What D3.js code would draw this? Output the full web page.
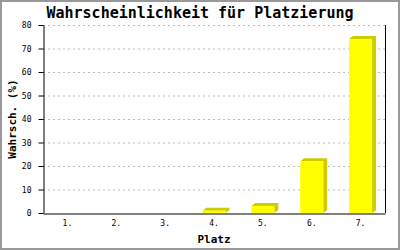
<!DOCTYPE html>
<html>
<head>
<meta charset="utf-8">
<script src="https://cdn.jsdelivr.net/npm/d3@7"></script>
<style>
  body { margin: 0; background: #fff; }
  text { font-family: "DejaVu Sans Mono", monospace; }
</style>
</head>
<body>
<div id="chart"></div>
<script>
var places = ["1.", "2.", "3.", "4.", "5.", "6.", "7."];
var probs = [0, 0, 0, 1, 3, 22, 74];
var yTicks = [0, 10, 20, 30, 40, 50, 60, 70, 80];

var width = 400, height = 250;
var margin = { top: 25, right: 15, bottom: 37, left: 43 };
var depth = 4;

var svg = d3.select("#chart")
    .append("svg")
    .attr("width", width)
    .attr("height", height);

svg.append("rect")
    .attr("x", 1).attr("y", 1)
    .attr("width", width - 2).attr("height", height - 2)
    .attr("fill", "#fff")
    .attr("stroke", "#999")
    .attr("stroke-width", 2);

var x = d3.scaleBand()
    .domain(places)
    .range([margin.left, width - margin.right]);

var y = d3.scaleLinear()
    .domain([0, 80])
    .range([height - margin.bottom, margin.top]);

// grid
svg.append("g")
    .selectAll("line")
    .data(yTicks.slice(1))
    .join("line")
    .attr("x1", margin.left)
    .attr("x2", width - margin.right)
    .attr("y1", function (d) { return y(d) + 0.5; })
    .attr("y2", function (d) { return y(d) + 0.5; })
    .attr("stroke", "#bbb")
    .attr("stroke-dasharray", "2,3");

// bars
var bars = svg.append("g")
    .selectAll("g")
    .data(places)
    .join("g");

var bw = 23;
bars.filter(function (d, i) { return probs[i] > 0; })
    .each(function (d, i) {
        var idx = places.indexOf(d);
        var cx = x(d) + x.bandwidth() / 2;
        var x0 = cx - bw / 2, x1 = cx + bw / 2;
        var yt = y(probs[idx]), yb = y(0);
        var g = d3.select(this);
        g.append("path")
            .attr("d", "M" + x0 + "," + yt + "L" + (x0 + depth) + "," + (yt - depth + 1) +
                "L" + (x1 + depth) + "," + (yt - depth + 1) + "L" + (x1 + depth) + "," + (yb - depth + 1) +
                "L" + x1 + "," + yb + "L" + x1 + "," + yt + "Z")
            .attr("fill", "#cccc00");
        g.append("rect")
            .attr("x", x0)
            .attr("y", yt)
            .attr("width", bw)
            .attr("height", yb - yt)
            .attr("fill", "#ffff00");
    });

// axes
var yAxis = svg.append("g")
    .attr("transform", "translate(" + (margin.left + 0.5) + ",0)")
    .call(d3.axisLeft(y).tickValues(yTicks).tickSize(5).tickSizeOuter(0).tickPadding(7));
yAxis.select(".domain").attr("stroke", "#000");
yAxis.selectAll("text").style("font-size", "8px").attr("fill", "#000");

var xAxis = svg.append("g")
    .attr("transform", "translate(0," + (height - margin.bottom + 0.5) + ")")
    .call(d3.axisBottom(x).tickSize(0).tickPadding(7));
xAxis.select(".domain").attr("stroke", "#000");
xAxis.selectAll("text").style("font-size", "8px").attr("fill", "#000");

svg.append("line")
    .attr("x1", width - margin.right + 0.5)
    .attr("x2", width - margin.right + 0.5)
    .attr("y1", margin.top)
    .attr("y2", height - margin.bottom)
    .attr("stroke", "#000");

// titles
svg.append("text")
    .attr("x", 200).attr("y", 18)
    .attr("text-anchor", "middle")
    .style("font-size", "15px")
    .style("font-weight", "bold")
    .text("Wahrscheinlichkeit für Platzierung");

svg.append("text")
    .attr("x", 214).attr("y", 243)
    .attr("text-anchor", "middle")
    .style("font-size", "11px")
    .style("font-weight", "bold")
    .text("Platz");

svg.append("text")
    .attr("transform", "translate(16," + ((margin.top + height - margin.bottom) / 2) + ") rotate(-90)")
    .attr("text-anchor", "middle")
    .style("font-size", "11px")
    .style("font-weight", "bold")
    .text("Wahrsch. (%)");
</script>
</body>
</html>
